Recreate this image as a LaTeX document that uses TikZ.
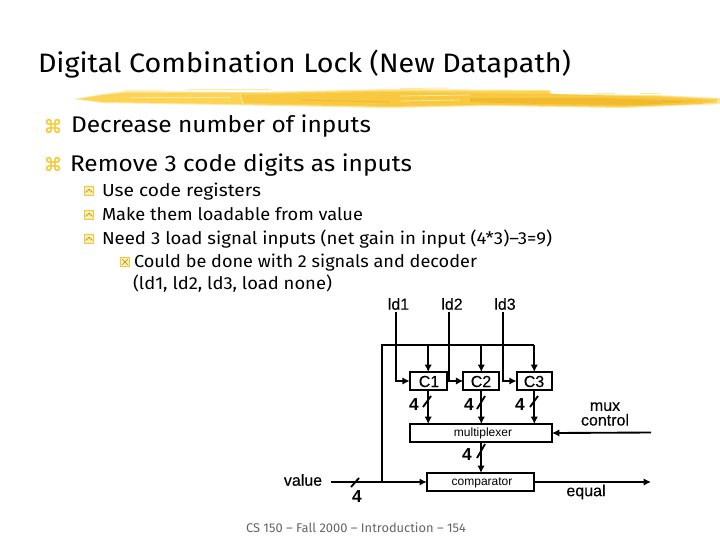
\documentclass[tikz,border=0pt]{standalone}
\usepackage{fontspec}
\usepackage{graphicx}
\setmainfont{Fira Sans}
\newfontfamily\labelfont[FakeBold=0.25]{Liberation Sans}
\newfontfamily\plainfont{Liberation Sans}
\newfontfamily\numfont{Liberation Sans Bold}
\newfontfamily\symfont[FakeBold=1.2]{DejaVu Sans}
\definecolor{brushA}{HTML}{FCD355}
\definecolor{brushB}{HTML}{F8C840}
\definecolor{brushC}{HTML}{F1B92E}
\definecolor{brushL}{HTML}{FDE9A0}
\definecolor{bul}{HTML}{F5C92E}
\definecolor{bulfill}{HTML}{FBEFB8}
\newcommand{\fitw}[2]{\resizebox{\dimexpr#1pt*3/4\relax}{\height}{#2}}
\newcommand{\fs}[1]{\fontsize{#1}{#1}\selectfont}
\usetikzlibrary{arrows.meta}
\tikzset{
  x=0.75pt,y=-0.75pt,
  txt/.style={anchor=base west,inner sep=0pt,outer sep=0pt},
  lab/.style={inner sep=0pt,outer sep=0pt,font=\labelfont\fs{12}},
  num/.style={inner sep=0pt,outer sep=0pt,font=\numfont\fs{13}},
  small/.style={inner sep=0pt,outer sep=0pt,font=\plainfont\fs{9}},
  bx/.style={draw=black,line width=1.5pt,fill=white,inner sep=0pt,outer sep=0pt,minimum height=13.5pt},
  wire/.style={draw=black,line width=1.4pt},
  arr/.style={wire,-{Latex[length=5.5pt,width=5.5pt]}},
  tick/.style={draw=black,line width=1.4pt},
  subb/.style={draw=bul,line width=1.2pt,fill=bulfill,minimum size=7pt,inner sep=0pt},
  glyph/.style={draw=bul!70!black,line width=0.5pt},
  streak/.style={draw=brushL,line width=0.6pt},
  streakd/.style={draw=brushC,line width=0.7pt},
}
\begin{document}
\begin{tikzpicture}
\useasboundingbox (0,0) rectangle (720,540);
\fill[white] (0,0) rectangle (720,540);

% brush stroke
\fill[brushL] (73,99) -- (103,94) -- (127,91) -- (260,92) -- (390,89) -- (550,90) -- (552,94) -- (657,95) -- (720,98) -- (720,104) -- (623,108) -- (490,106) -- (390,108) -- (227,105) -- (103,103) -- cycle;
\fill[brushA] (78,99) -- (103,95) -- (127,92.5) -- (260,93) -- (390,90.5) -- (548,91) -- (552,95) -- (657,96) -- (718,99) -- (716,103) -- (623,107) -- (490,105) -- (390,107) -- (227,104) -- (103,102) -- cycle;
\fill[brushB] (240,95) -- (390,92) -- (550,94) -- (660,97) -- (716,100) -- (700,104) -- (623,106.5) -- (490,104.5) -- (390,106) -- (300,104) -- (245,103) -- cycle;
\fill[brushC] (470,98) -- (600,98) -- (700,101) -- (640,105) -- (540,104) -- (470,102) -- cycle;
\draw[streak] (240,94) -- (243,104);
\draw[streak] (400,96) -- (470,95);
\draw[streak] (130,97) -- (230,97);
\draw[streak] (400,101) -- (460,100);
\draw[streakd] (300,100) -- (390,102);
\draw[streakd] (560,102) -- (680,102);
\draw[brushL,line width=0.7pt] (125,90) -- (165,90) (187,89.5) -- (270,89.5) (400,88.5) -- (450,88) (595,93.5) -- (615,93.5) (640,93.5) -- (660,93.5);

% title and text
\node[txt] (title) at (38,72) {\fitw{533}{\fs{20}Digital Combination Lock (New Datapath)}};
\node[anchor=center,inner sep=0pt,text=bul] (b1) at (53,126) {\symfont\fs{14}⌘};
\node[txt] (t1) at (71,132) {\fitw{300}{\fs{17}Decrease number of inputs}};
\node[anchor=center,inner sep=0pt,text=bul] (b2) at (53,164) {\symfont\fs{14}⌘};
\node[txt] (t2) at (70,171) {\fitw{342}{\fs{17}Remove 3 code digits as inputs}};

\node[subb] (s1) at (89,191) {};
\node[subb] (s2) at (89,215) {};
\node[subb] (s3) at (89,239) {};
\node[subb] (s4) at (125,262) {};
\foreach \n in {s1,s2,s3}{
  \draw[glyph] ([xshift=-2.5pt,yshift=-1pt]\n.center) -- ([yshift=1.2pt]\n.center) -- ([xshift=2.5pt,yshift=-1pt]\n.center);
}
\draw[glyph] ([xshift=-2pt,yshift=-2pt]s4.center) -- ([xshift=2pt,yshift=2pt]s4.center);
\draw[glyph] ([xshift=-2pt,yshift=2pt]s4.center) -- ([xshift=2pt,yshift=-2pt]s4.center);

\node[txt] (t3) at (102,196) {\fitw{159}{\fs{13}Use code registers}};
\node[txt] (t4) at (102,220) {\fitw{261}{\fs{13}Make them loadable from value}};
\node[txt] (t5) at (102,244) {\fitw{450}{\fs{13}Need 3 load signal inputs (net gain in input (4*3)–3=9)}};
\node[txt] (t6) at (134,267) {\fitw{343}{\fs{13}Could be done with 2 signals and decoder}};
\node[txt] (t7) at (133,289) {\fitw{199}{\fs{13}(ld1, ld2, ld3, load none)}};

% datapath boxes
\node[bx,minimum width=27.75pt] (C1) at (428.2,381) {};
\node[bx,minimum width=27pt] (C2) at (481.3,381) {};
\node[bx,minimum width=26.5pt] (C3) at (534.3,381) {};
\node[bx,minimum width=106.5pt] (mux) at (481,433) {};
\node[bx,minimum width=80.5pt] (cmp) at (480.5,482) {};

\node[lab] (C1t) at (429,381.5) {C1};
\node[lab] (C2t) at (481,381.5) {C2};
\node[lab] (C3t) at (534,381.5) {C3};
\node[small] (muxt) at (483,433) {multiplexer};
\node[small] (cmpt) at (482,483) {comparator};

\node[lab] (ld1) at (398.5,304) {ld1};
\node[lab] (ld2) at (452,304) {ld2};
\node[lab] (ld3) at (505,304) {ld3};
\node[num] (n1) at (414,405) {4};
\node[num] (n2) at (469,405) {4};
\node[num] (n3) at (520,405) {4};
\node[num] (n4) at (467,455) {4};
\node[num] (n5) at (357,497) {4};
\node[lab] (val) at (303,480) {value};
\node[lab] (eq) at (586,492) {equal};
\node[lab,align=center] (mc) at (605,414) {mux\\[-1pt]control};

% named wire ends
\coordinate (ld1o) at (396,312);
\coordinate (ld2o) at (448.7,312);
\coordinate (ld3o) at (503,312);
\coordinate (valo) at (331,482);
\coordinate (J) at (382,482);
\coordinate (busT) at (382,345);
\coordinate (mco) at (651,432.5);
\coordinate (eqo) at (651,482);

% wires
\draw[arr] (ld1o) |- (C1.west);
\draw[arr] (ld2o) |- (C2.west);
\draw[arr] (ld3o) |- (C3.west);
\draw[wire] (J) -- (busT) -- (busT -| C3.north);
\draw[arr] (busT -| C1.north) -- (C1.north);
\draw[arr] (busT -| C2.north) -- (C2.north);
\draw[arr] (busT -| C3.north) -- (C3.north);
\draw[arr] (C1.south) -- (C1.south |- mux.north);
\draw[arr] (C2.south) -- (C2.south |- mux.north);
\draw[arr] (C3.south) -- (C3.south |- mux.north);
\draw[arr] (mux.south) -- (mux.south |- cmp.north);
\draw[arr] (mco) -- (mux.east);
\draw[arr] (valo) -- (cmp.west);
\draw[arr] (cmp.east) -- (eqo);

% width ticks
\draw[tick] (423,407) -- (431,396);
\draw[tick] (477,409) -- (485,396);
\draw[tick] (530,407) -- (538,396);
\draw[tick] (477,458) -- (485,444);
\draw[tick] (351,487) -- (359,478);

% footer
\node[txt,text=black!60] (foot) at (246,532) {\fitw{220}{\fs{9.5}CS 150 – Fall 2000 – Introduction – 154}};
\end{tikzpicture}
\end{document}
